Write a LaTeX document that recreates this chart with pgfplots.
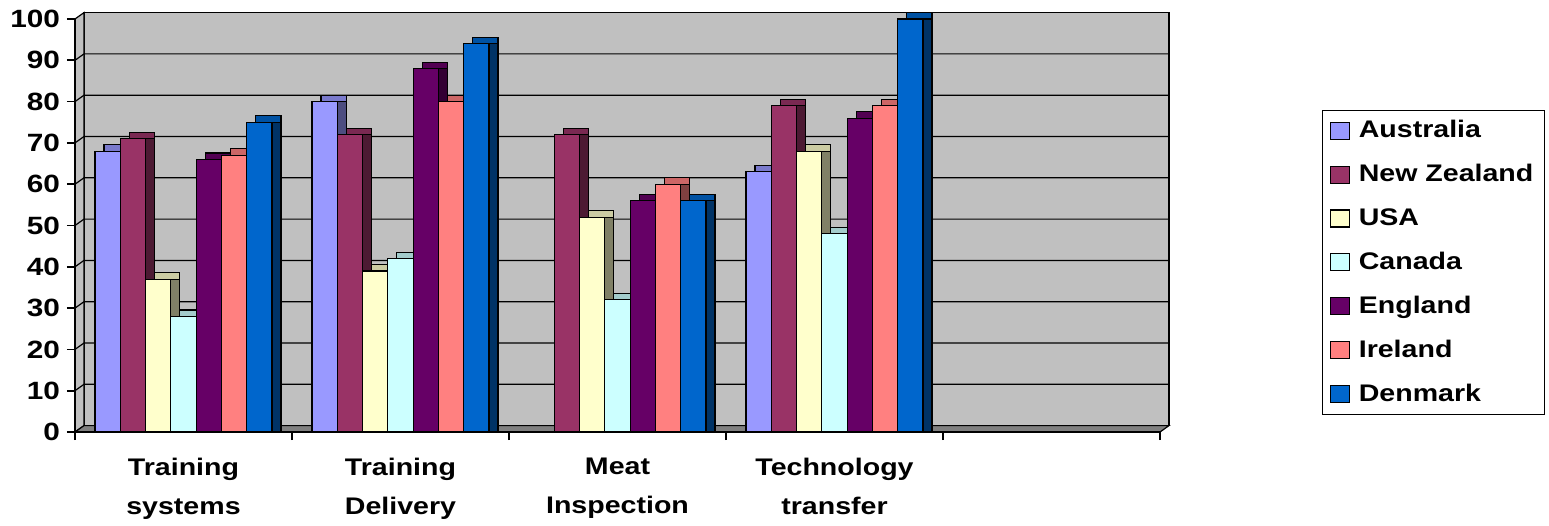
\documentclass[border=0pt]{standalone}
\usepackage{fontspec}
\setmainfont{Liberation Sans}[FakeStretch=1.19]
\usepackage{pgfplots}
\usepackage{pgfplotstable}
\pgfplotsset{compat=1.18}
\definecolor{wall}{HTML}{C0C0C0}
\definecolor{floorc}{HTML}{808080}
\definecolor{aus}{HTML}{9999FF}\definecolor{ausT}{HTML}{7A7ACC}\definecolor{ausS}{HTML}{4D4D80}
\definecolor{nz}{HTML}{993366}\definecolor{nzT}{HTML}{7A2952}\definecolor{nzS}{HTML}{4D1A33}
\definecolor{usa}{HTML}{FFFFCC}\definecolor{usaT}{HTML}{CCCCA3}\definecolor{usaS}{HTML}{808066}
\definecolor{can}{HTML}{CCFFFF}\definecolor{canT}{HTML}{A3CCCC}\definecolor{canS}{HTML}{668080}
\definecolor{eng}{HTML}{660066}\definecolor{engT}{HTML}{520052}\definecolor{engS}{HTML}{330033}
\definecolor{ire}{HTML}{FF8080}\definecolor{ireT}{HTML}{CC6666}\definecolor{ireS}{HTML}{804040}
\definecolor{den}{HTML}{0066CC}\definecolor{denT}{HTML}{0052A3}\definecolor{denS}{HTML}{003366}

\pgfplotstableread{
x aus nz usa can eng ire den
0 68 71 37 28 66 67 75
1 80 72 39 42 88 80 94
2 nan 72 52 32 56 60 56
3 63 79 68 48 76 79 100
}\datatable

\pgfplotsset{
  front/.style={fill=#1, draw=black, line width=0.6pt},
  shtop/.style={fill=#1, draw=black, line width=0.6pt, xshift=4.5pt, yshift=3.2pt, forget plot},
  shside/.style={fill=#1, draw=black, line width=0.6pt, xshift=4.5pt, forget plot},
}

\begin{document}
\begin{tikzpicture}
\begin{axis}[
  set layers,
  scale only axis, width=542.5pt, height=206.5pt,
  xmin=-0.5, xmax=4.5, ymin=0, ymax=100,
  clip=false,
  ybar, bar width=0.1166,
  axis x line*=bottom, axis y line*=left,
  axis line style={-, line width=0.8pt, black},
  ytick={0,10,...,100},
  tick align=outside, major tick length=4pt,
  tick style={black, line width=0.8pt},
  xtick={-0.5,0.5,1.5,2.5,3.5,4.5}, xticklabels={},
  extra x ticks={0,1,2,3},
  extra x tick labels={{Training\\systems},{Training\\Delivery},{Meat\\Inspection},{Technology\\transfer}},
  extra x tick style={major tick length=0pt, xticklabel style={align=center, yshift=-9.5pt, font=\bfseries\fontsize{12}{19.5}\selectfont}},
  yticklabel style={font=\bfseries\fontsize{12.5}{14}\selectfont},
  /pgf/number format/assume math mode=true,
  legend style={at={(1,0.7797)}, anchor=north west, xshift=81pt, draw=black, fill=white, line width=0.6pt,
    font=\bfseries\fontsize{12}{13}\selectfont, row sep=7.8pt, column sep=2.5pt, inner xsep=3.5pt, inner ysep=3pt},
  legend cell align=left,
  legend image code/.code={\draw[#1, line width=0.6pt] (0pt,-4.25pt) rectangle (9.5pt,4.25pt);},
]
\begin{pgfonlayer}{axis background}
  \fill[wall, draw=black, line width=0.6pt] ([shift={(4.5pt,3.2pt)}]rel axis cs:0,0) rectangle ([shift={(4.5pt,3.2pt)}]rel axis cs:1,1);
  \fill[wall, draw=black, line width=0.6pt] (rel axis cs:0,0) -- (rel axis cs:0,1) -- ([shift={(4.5pt,3.2pt)}]rel axis cs:0,1) -- ([shift={(4.5pt,3.2pt)}]rel axis cs:0,0) -- cycle;
  \fill[floorc, draw=black, line width=0.6pt] (rel axis cs:0,0) -- (rel axis cs:1,0) -- ([shift={(4.5pt,3.2pt)}]rel axis cs:1,0) -- ([shift={(4.5pt,3.2pt)}]rel axis cs:0,0) -- cycle;
  \pgfplotsinvokeforeach{10,20,30,40,50,60,70,80,90}{
    \draw[black, line width=0.6pt] (axis cs:-0.5,#1) -- ([shift={(4.5pt,3.2pt)}]axis cs:-0.5,#1) -- ([shift={(4.5pt,3.2pt)}]axis cs:4.5,#1);
  }
\end{pgfonlayer}
\coordinate (A) at (rel axis cs:0,0);
\coordinate (B) at (rel axis cs:1,1);

% top faces
\addplot[shtop=ausT, bar shift=-0.3498] table[x=x,y=aus]{\datatable};
\addplot[shtop=nzT,  bar shift=-0.2332] table[x=x,y=nz]{\datatable};
\addplot[shtop=usaT, bar shift=-0.1166] table[x=x,y=usa]{\datatable};
\addplot[shtop=canT, bar shift=0]       table[x=x,y=can]{\datatable};
\addplot[shtop=engT, bar shift=0.1166]  table[x=x,y=eng]{\datatable};
\addplot[shtop=ireT, bar shift=0.2332]  table[x=x,y=ire]{\datatable};
\addplot[shtop=denT, bar shift=0.3498]  table[x=x,y=den]{\datatable};
% side faces
\addplot[shside=ausS, bar shift=-0.3498] table[x=x,y=aus]{\datatable};
\addplot[shside=nzS,  bar shift=-0.2332] table[x=x,y=nz]{\datatable};
\addplot[shside=usaS, bar shift=-0.1166] table[x=x,y=usa]{\datatable};
\addplot[shside=canS, bar shift=0]       table[x=x,y=can]{\datatable};
\addplot[shside=engS, bar shift=0.1166]  table[x=x,y=eng]{\datatable};
\addplot[shside=ireS, bar shift=0.2332]  table[x=x,y=ire]{\datatable};
\addplot[shside=denS, bar shift=0.3498]  table[x=x,y=den]{\datatable};
% front faces
\addplot[front=aus, bar shift=-0.3498] table[x=x,y=aus]{\datatable}; \addlegendentry{Australia}
\addplot[front=nz,  bar shift=-0.2332] table[x=x,y=nz]{\datatable};  \addlegendentry{New Zealand}
\addplot[front=usa, bar shift=-0.1166] table[x=x,y=usa]{\datatable}; \addlegendentry{USA}
\addplot[front=can, bar shift=0]       table[x=x,y=can]{\datatable}; \addlegendentry{Canada}
\addplot[front=eng, bar shift=0.1166]  table[x=x,y=eng]{\datatable}; \addlegendentry{England}
\addplot[front=ire, bar shift=0.2332]  table[x=x,y=ire]{\datatable}; \addlegendentry{Ireland}
\addplot[front=den, bar shift=0.3498]  table[x=x,y=den]{\datatable}; \addlegendentry{Denmark}
\end{axis}
\pgfresetboundingbox
\path[use as bounding box] ([shift={(-37.5pt,-46.5pt)}]A) rectangle ([shift={(194.5pt,9.5pt)}]B);
\end{tikzpicture}
\end{document}
